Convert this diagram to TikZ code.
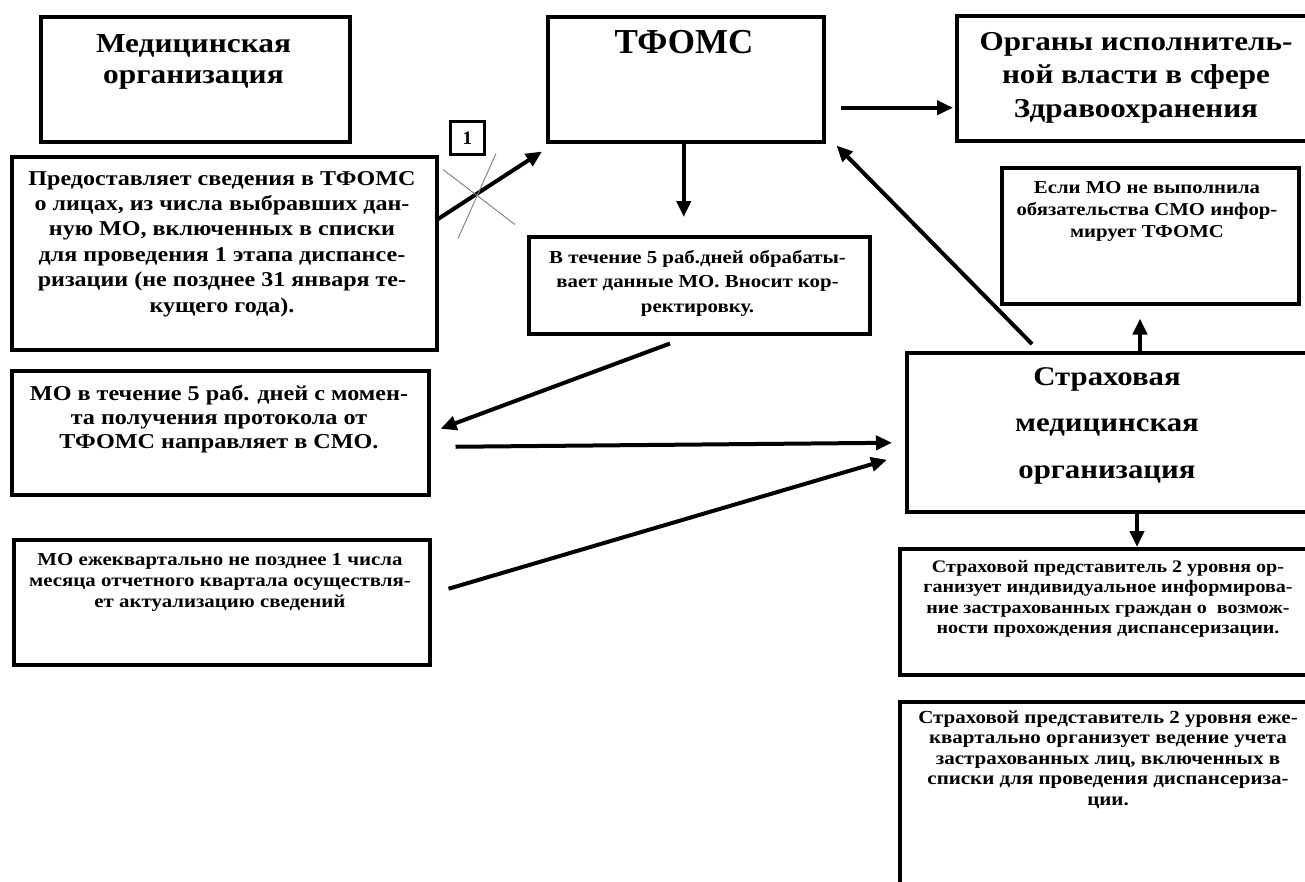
\documentclass[tikz,border=0pt]{standalone}
\usepackage{fontspec}
\setmainfont{Liberation Serif}
\newfontfamily\widefam[FakeStretch=1.14]{Liberation Serif}
\usetikzlibrary{arrows.meta,calc}
\begin{document}
\begin{tikzpicture}[x=1pt,y=-1pt,
  box/.style={draw, line width=3.5pt, inner sep=0pt, anchor=north west},
  txt/.style={anchor=base, align=center, inner sep=0pt},
  arr/.style={line width=4pt, -{Triangle[length=16pt,width=14pt]}},
  cross/.style={draw=gray, line width=0.9pt}
]
\clip (0,0) rectangle (1305,881);
\fill[white] (0,0) rectangle (1305,881);
% boxes
\node[box, minimum width=309pt, minimum height=125pt] (med) at (39,15) {};
\node[box, minimum width=425pt, minimum height=193pt] (prov) at (10,155) {};
\node[box, minimum width=417pt, minimum height=124pt] (mo5) at (10,369) {};
\node[box, minimum width=416pt, minimum height=125pt] (quart) at (12,538) {};
\node[box, minimum width=276pt, minimum height=125pt] (tfoms) at (546,15) {};
\node[box, minimum width=341pt, minimum height=97pt] (vtech) at (527,235) {};
\node[box, minimum width=365pt, minimum height=125pt] (organy) at (955,14) {};
\node[box, minimum width=297pt, minimum height=136pt] (esli) at (1000,166) {};
\node[box, minimum width=410pt, minimum height=159pt] (smo) at (905,351) {};
\node[box, minimum width=422pt, minimum height=126pt] (rep1) at (898,547) {};
\node[box, minimum width=422pt, minimum height=200pt] (rep2) at (898,700) {};
\node[draw, line width=2.5pt, minimum width=34pt, minimum height=33pt, inner sep=0pt, anchor=north west,
      font={\bfseries\fontsize{19}{22}\selectfont}] (mark) at (449,120) {1};
% texts (anchored at the baseline of the last line)
\node[txt, font={\widefam\bfseries\fontsize{27.5}{31}\selectfont}] at (193.5,83) {Медицинская\\организация};
\node[txt, font={\bfseries\fontsize{35}{40}\selectfont}] at (684,53) {ТФОМС};
\node[txt, font={\widefam\bfseries\fontsize{27.3}{33.5}\selectfont}] at (1136,117) {Органы исполнитель-\\ной власти в сфере\\Здравоохранения};
\node[txt, font={\widefam\bfseries\fontsize{27}{46.5}\selectfont}] at (1107,478) {Страховая\\медицинская\\организация};
\node[txt, font={\widefam\bfseries\fontsize{21.1}{25.4}\selectfont}] at (222,312) {Предоставляет сведения в ТФОМС\\о лицах, из числа выбравших дан-\\ную МО, включенных в списки\\для проведения 1 этапа диспансе-\\ризации (не позднее 31 января те-\\кущего года).};
\node[txt, font={\widefam\bfseries\fontsize{18.3}{24.5}\selectfont}] at (697.5,312) {В течение 5 раб.дней обрабаты-\\вает данные МО. Вносит кор-\\ректировку.};
\node[txt, font={\widefam\bfseries\fontsize{21.2}{24}\selectfont}] at (219,448) {МО в течение 5 раб. дней с момен-\\та получения протокола от\\ТФОМС направляет в СМО.};
\node[txt, font={\widefam\bfseries\fontsize{18.3}{21}\selectfont}] at (220,607) {МО ежеквартально не позднее 1 числа\\месяца отчетного квартала осуществля-\\ет актуализацию сведений};
\node[txt, font={\widefam\bfseries\fontsize{18.2}{22}\selectfont}] at (1147,237) {Если МО не выполнила\\обязательства СМО инфор-\\мирует ТФОМС};
\node[txt, font={\widefam\bfseries\fontsize{17.6}{20.5}\selectfont}] at (1108,633.5) {Страховой представитель 2 уровня ор-\\ганизует индивидуальное информирова-\\ние застрахованных граждан о\ \ возмож-\\ности прохождения диспансеризации.};
\node[txt, font={\widefam\bfseries\fontsize{18.4}{20.5}\selectfont}] at (1108,805) {Страховой представитель 2 уровня еже-\\квартально организует ведение учета\\застрахованных лиц, включенных в\\списки для проведения диспансериза-\\ции.};
% connectors
\draw[arr] ($(prov.north east)+(-2,65)$) -- ($(tfoms.south west)+(-4,8)$);
\draw[cross] ($(mark.south west)+(-6,14)$) -- ($(mark.south west)+(66,69)$);
\draw[cross] ($(mark.south west)+(47,-2)$) -- ($(mark.south west)+(9,83)$);
\draw[arr] ($(tfoms.south)+(-2,0)$) -- ($(vtech.north)+(-15.5,-18)$);
\draw[arr] ($(tfoms.east)+(15,28.5)$) -- ($(organy.west)+(-2,29.5)$);
\draw[arr] ($(smo.north west)+(127,-7)$) -- ($(tfoms.south east)+(11,2)$);
\draw[arr] ($(smo.north west)+(235,0)$) -- ($(esli.south)+(-10.25,13)$);
\draw[arr] ($(smo.south west)+(232,0)$) -- ($(rep1.north west)+(239,0)$);
\draw[arr] ($(vtech.south west)+(143,8)$) -- ($(mo5.east)+(10,-4)$);
\draw[arr] ($(mo5.east)+(25,14)$) -- ($(smo.west)+(-13,10.5)$);
\draw[arr] ($(quart.east)+(17,-13.5)$) -- ($(smo.west)+(-18,27.5)$);
\end{tikzpicture}
\end{document}
